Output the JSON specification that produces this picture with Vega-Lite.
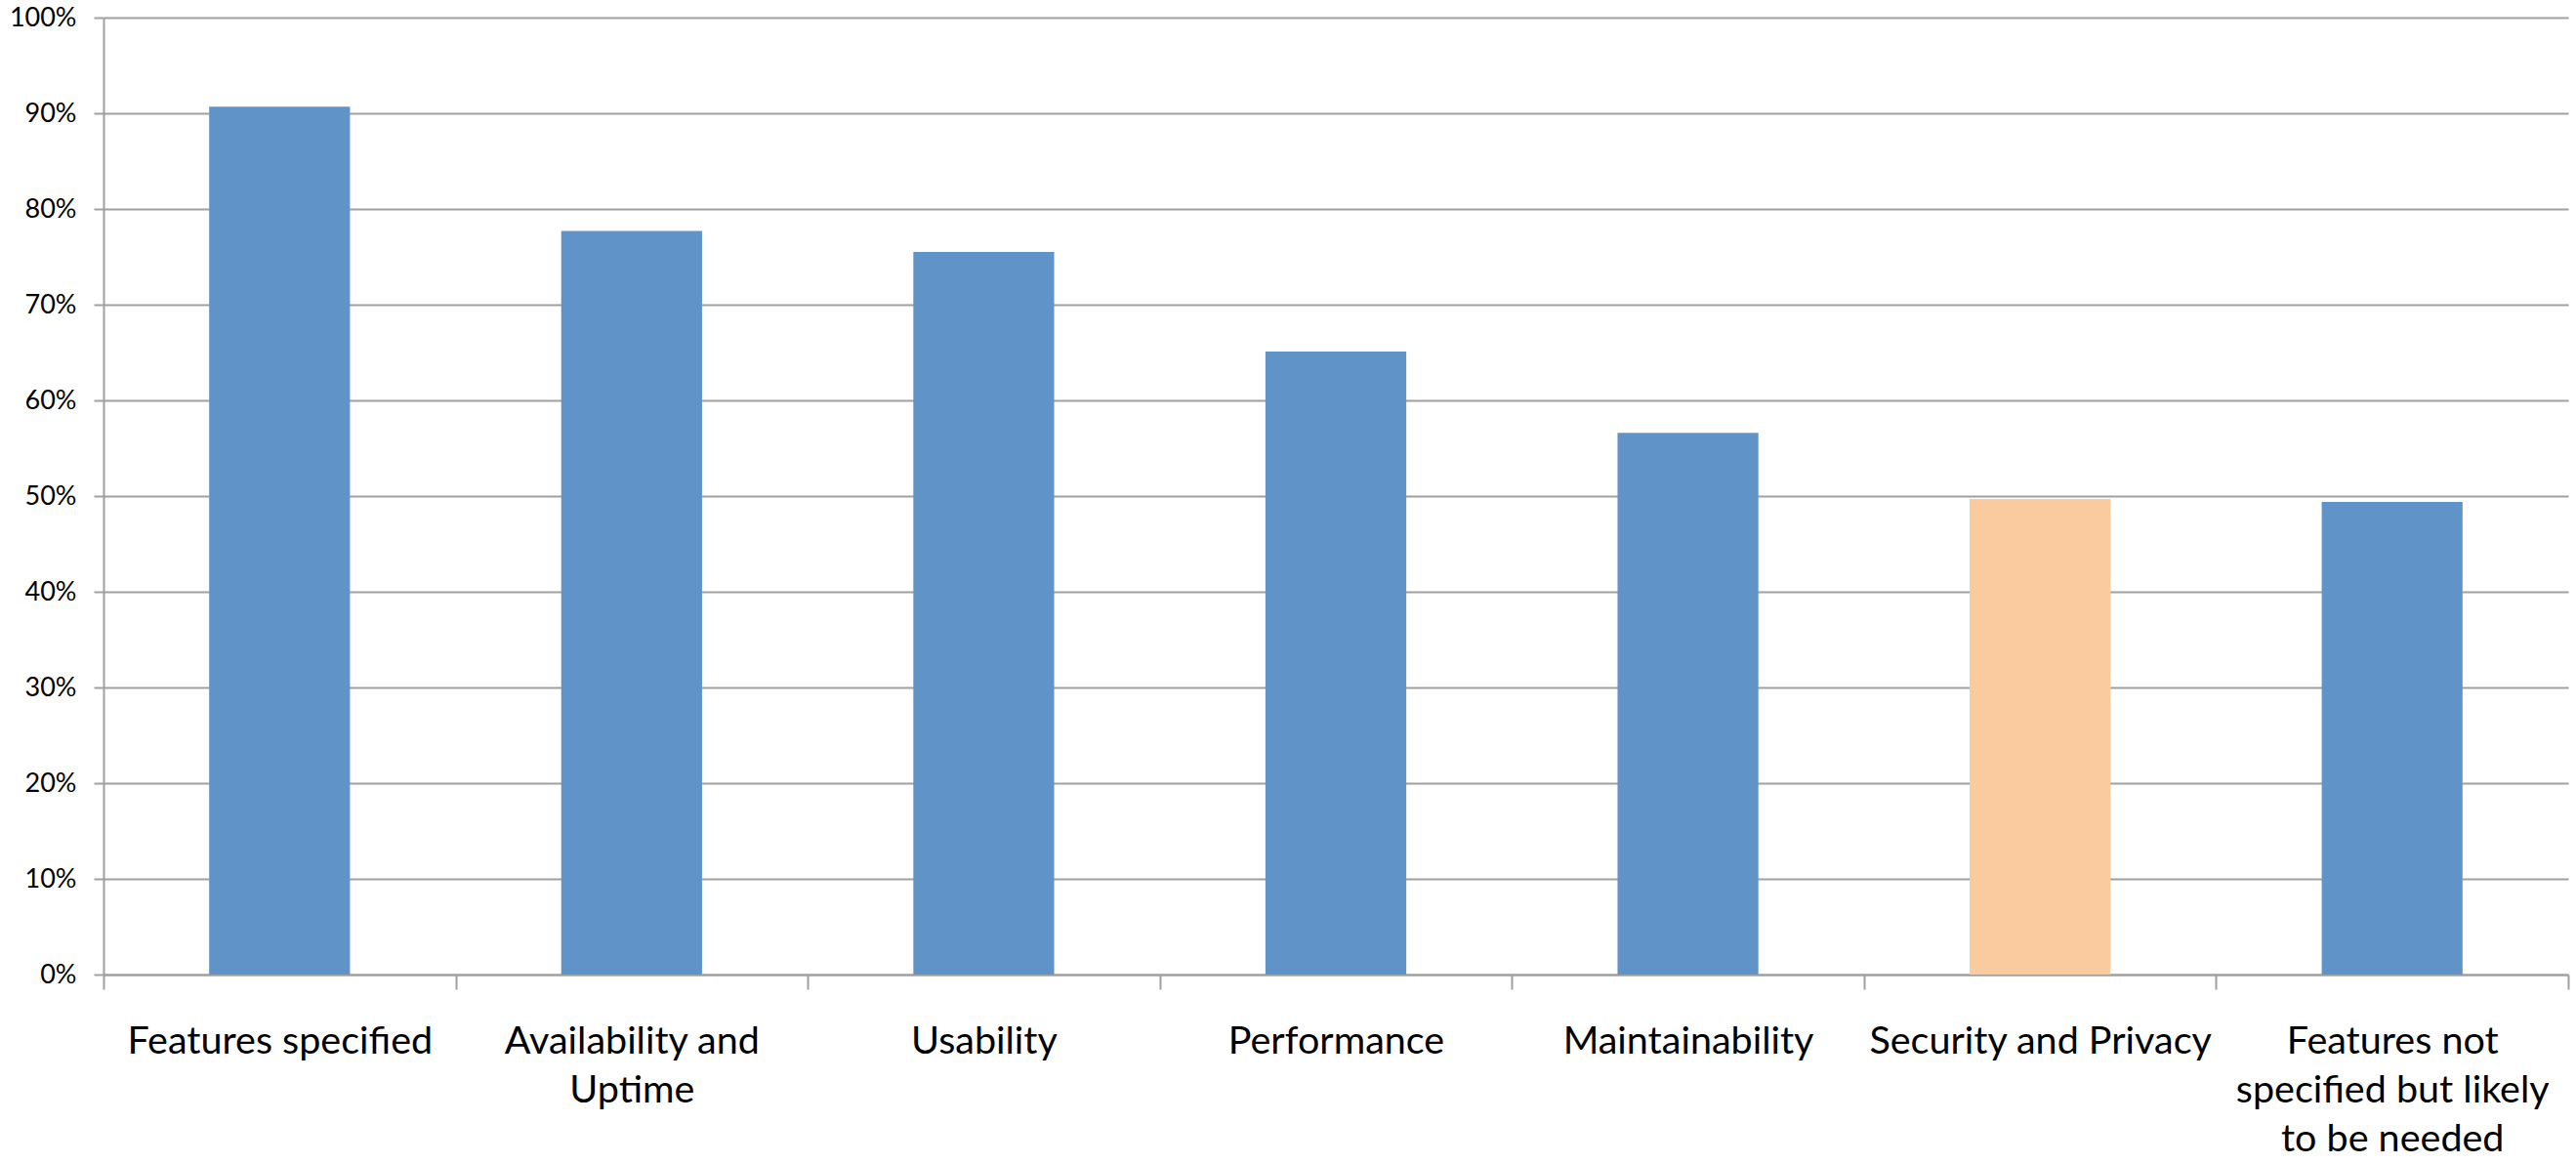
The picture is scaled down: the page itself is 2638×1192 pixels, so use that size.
{
  "$schema": "https://vega.github.io/schema/vega-lite/v6.json",
  "autosize": {"type": "none"},
  "width": 2524,
  "height": 980,
  "padding": {"left": 106, "top": 18, "right": 8, "bottom": 194},
  "background": "white",
  "config": {"view": {"stroke": null}},
  "data": {
    "values": [
      {"category": "Features specified", "share": 0.907, "group": "other"},
      {"category": "Availability and Uptime", "share": 0.777, "group": "other"},
      {"category": "Usability", "share": 0.755, "group": "other"},
      {"category": "Performance", "share": 0.651, "group": "other"},
      {"category": "Maintainability", "share": 0.566, "group": "other"},
      {"category": "Security and Privacy", "share": 0.497, "group": "security"},
      {"category": "Features not specified but likely to be needed", "share": 0.494, "group": "other"}
    ]
  },
  "mark": {"type": "bar", "width": {"band": 0.4}},
  "encoding": {
    "x": {
      "field": "category",
      "type": "nominal",
      "sort": null,
      "scale": {"paddingInner": 0, "paddingOuter": 0},
      "axis": {
        "title": null,
        "labelAngle": 0,
        "labelFont": "Lato",
        "labelFontSize": 39.5,
        "labelColor": "#000000",
        "labelLineHeight": 50,
        "labelBaseline": "top",
        "labelPadding": 34,
        "labelLimit": 0,
        "labelExpr": "datum.label == 'Availability and Uptime' ? ['Availability and', 'Uptime'] : datum.label == 'Features not specified but likely to be needed' ? ['Features not', 'specified but likely', 'to be needed'] : datum.label",
        "tickBand": "extent",
        "tickSize": 15,
        "tickWidth": 2,
        "tickColor": "#a0a0a0",
        "domainColor": "#a0a0a0",
        "domainWidth": 2,
        "grid": false
      }
    },
    "y": {
      "field": "share",
      "type": "quantitative",
      "scale": {"domain": [0, 1], "nice": false},
      "axis": {
        "title": null,
        "format": ".0%",
        "values": [0, 0.1, 0.2, 0.3, 0.4, 0.5, 0.6, 0.7, 0.8, 0.9, 1],
        "labelFont": "Lato",
        "labelFontSize": 27,
        "labelColor": "#000000",
        "labelPadding": 18,
        "tickSize": 10,
        "tickWidth": 2,
        "tickColor": "#a0a0a0",
        "domainColor": "#a0a0a0",
        "domainWidth": 2,
        "grid": true,
        "gridColor": "#a0a0a0",
        "gridWidth": 2
      }
    },
    "color": {
      "field": "group",
      "type": "nominal",
      "scale": {"domain": ["other", "security"], "range": ["#6094c8", "#f9cb9f"]},
      "legend": null
    }
  }
}
